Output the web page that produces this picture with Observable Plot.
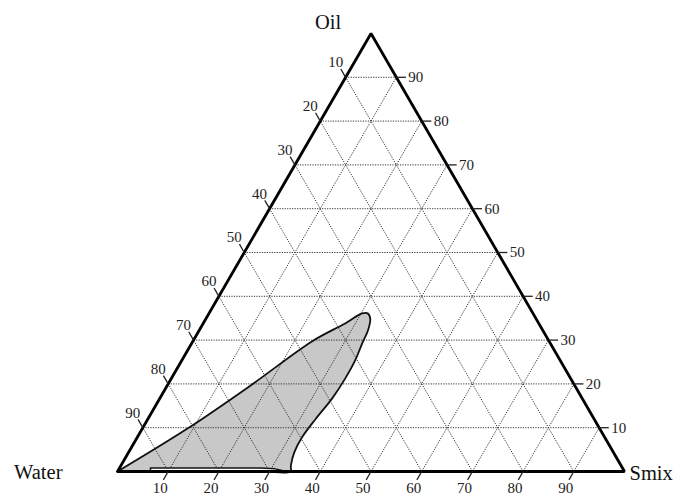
<!DOCTYPE html>
<html><head><meta charset="utf-8">
<script src="https://cdn.jsdelivr.net/npm/d3@7"></script>
<script src="https://cdn.jsdelivr.net/npm/@observablehq/plot@0.6"></script>
<style>body{margin:0;background:#fff} #chart svg{display:block}</style>
</head><body><div id="chart"></div>
<script>
// Vertex names and tick labels
const vertexNames = ["Water", "Oil", "Smix"];
const tickValues = [10, 20, 30, 40, 50, 60, 70, 80, 90];

// Shaded region boundary (percent of Water, Oil, Smix)
const regionWater = [100, 81.3, 64.0, 46.8, 38.2, 33.7, 32.6, 32.7, 34.5, 36.9, 40.5, 44.5, 49.3, 54.8, 59.7, 63.0, 65.1, 65.9, 71, 80, 90, 100];
const regionOil   = [0,   9.8,  19.6, 29.7, 33.8, 36.1, 36.1, 34.9, 32.2, 29.5, 25.3, 21.2, 16.7, 12.1, 7.8,  4.3,  1.4,  0,    0,  0,  0,  0];
const regionSmix  = [0,   8.9,  16.4, 23.5, 28.0, 30.2, 31.3, 32.4, 33.3, 33.6, 34.2, 34.3, 34.0, 33.1, 32.5, 32.7, 33.5, 34.1, 29, 20, 10, 0];

// Thin white strip along the Water–Smix edge
const stripWater = [93.5, 93.1, 71.4, 68.6, 66.7];
const stripOil   = [0,    0.8,  0.8,  0.6,  0];
const stripSmix  = [6.5,  6.1,  27.8, 30.8, 33.3];

const H = Math.sqrt(3) / 2;
function tx(w, o, s) { const t = w + o + s; return (s + o / 2) / t * 100; }
function ty(w, o, s) { const t = w + o + s; return o / t * 100 * H; }

const region = regionWater.map((w, i) => ({x: tx(w, regionOil[i], regionSmix[i]), y: ty(w, regionOil[i], regionSmix[i])}));
const strip = stripWater.map((w, i) => ({x: tx(w, stripOil[i], stripSmix[i]), y: ty(w, stripOil[i], stripSmix[i])}));

function seg(a, b) { return {x1: tx(...a), y1: ty(...a), x2: tx(...b), y2: ty(...b)}; }

// grid lines: [water, oil, smix]
const grid = [];
for (const k of tickValues) {
  grid.push(seg([100 - k, k, 0], [0, k, 100 - k]));     // constant oil
  grid.push(seg([100 - k, 0, k], [0, 100 - k, k]));     // constant smix
  grid.push(seg([k, 0, 100 - k], [k, 100 - k, 0]));     // constant water
}
const L = 1.9;
const rightTicks = tickValues.map(k => ({...seg([0, k, 100 - k], [-L, k, 100 - k + L]), label: String(k)}));
const leftTicks = tickValues.map(k => ({...seg([k, 100 - k, 0], [k, 100 - k + L, -L]), label: String(k)}));
const bottomTicks = tickValues.map(k => ({...seg([100 - k, 0, k], [100 - k + L, -L, k]), label: String(k)}));

const border = [[100, 0, 0], [0, 100, 0], [0, 0, 100], [100, 0, 0]].map(p => ({x: tx(...p), y: ty(...p)}));
const vertices = [[100, 0, 0], [0, 100, 0], [0, 0, 100]].map((p, i) => ({x: tx(...p), y: ty(...p), name: vertexNames[i]}));

const font = "'Liberation Serif', 'Times New Roman', serif";
const chart = Plot.plot({
  width: 673, height: 496,
  marginLeft: 117, marginRight: 49, marginTop: 33, marginBottom: 25,
  x: {domain: [0, 100], axis: null},
  y: {domain: [0, 100 * H], axis: null},
  style: {fontFamily: font, background: "#fff", overflow: "visible"},
  marks: [
    Plot.line(region, {x: "x", y: "y", curve: "catmull-rom", fill: "#c8c8c8", stroke: "none"}),
    Plot.link(grid, {x1: "x1", y1: "y1", x2: "x2", y2: "y2", stroke: "#333", strokeWidth: 1, strokeDasharray: "1.2,1.3"}),
    Plot.line(region, {x: "x", y: "y", curve: "catmull-rom", fill: "none", stroke: "#111", strokeWidth: 1.8}),
    Plot.line(strip, {x: "x", y: "y", curve: "linear", fill: "#fff", stroke: "#111", strokeWidth: 1.5}),
    Plot.line(border, {x: "x", y: "y", stroke: "#000", strokeWidth: 2.8, strokeLinejoin: "miter"}),
    Plot.link(rightTicks, {x1: "x1", y1: "y1", x2: "x2", y2: "y2", stroke: "#222", strokeWidth: 1.3}),
    Plot.link(leftTicks, {x1: "x1", y1: "y1", x2: "x2", y2: "y2", stroke: "#222", strokeWidth: 1.3}),
    Plot.link(bottomTicks, {x1: "x1", y1: "y1", x2: "x2", y2: "y2", stroke: "#222", strokeWidth: 1.3}),
    Plot.text(rightTicks, {x: "x1", y: "y1", text: "label", textAnchor: "start", dx: 12, fontSize: 15, fill: "#222"}),
    Plot.text(leftTicks, {x: "x1", y: "y1", text: "label", textAnchor: "middle", dx: -10, dy: -15, fontSize: 15, fill: "#222"}),
    Plot.text(bottomTicks, {x: "x1", y: "y1", text: "label", textAnchor: "middle", dx: -8, dy: 16.5, fontSize: 15, fill: "#222"}),
    Plot.text([vertices[0]], {x: "x", y: "y", text: "name", textAnchor: "end", dx: -55, dy: 1, fontSize: 20.5, fill: "#111"}),
    Plot.text([vertices[1]], {x: "x", y: "y", text: "name", textAnchor: "middle", dx: -43, dy: -11, fontSize: 20.5, fill: "#111"}),
    Plot.text([vertices[2]], {x: "x", y: "y", text: "name", textAnchor: "start", dx: 5, dy: 2, fontSize: 20.5, fill: "#111"})
  ]
});
document.getElementById("chart").appendChild(chart);
</script>
</body></html>
